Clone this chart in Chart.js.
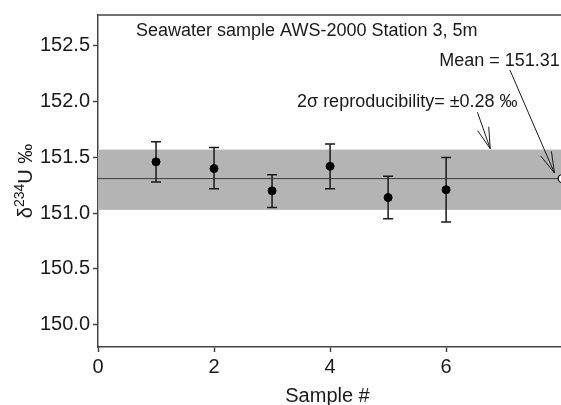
<!DOCTYPE html>
<html>
<head>
<meta charset="utf-8">
<script src="https://cdn.jsdelivr.net/npm/chart.js@4"></script>
<style>
  html, body { margin: 0; padding: 0; background: #fff; overflow: hidden; }
  canvas { display: block; }
</style>
</head>
<body>
<canvas id="chart" width="561" height="405"></canvas>
<script>
const sampleNo = [1, 2, 3, 4, 5, 6];
const delta234U = [151.46, 151.40, 151.20, 151.42, 151.14, 151.21];
const errLow = [151.28, 151.22, 151.05, 151.22, 150.95, 150.92];
const errHigh = [151.64, 151.59, 151.345, 151.62, 151.33, 151.50];
const meanX = [8];
const meanValue = [151.31];
const bandLow = 151.03;
const bandHigh = 151.57;
const xTicks = [0, 2, 4, 6];
const yTicks = [150.0, 150.5, 151.0, 151.5, 152.0, 152.5];

const FONT = 'Liberation Sans, Arial, sans-serif';
const INK = '#1a1a1a';
const AXIS = '#444';

// text + arrows, positioned in data units
const notes = [
  { text: 'Seawater sample AWS-2000 Station 3, 5m', x: 0.655, y: 152.587 },
  { text: 'Mean = 151.31', x: 5.88, y: 152.32 },
  { text: '2\u03c3 reproducibility= \u00b10.28 \u2030', x: 3.43, y: 151.955 }
];
const arrows = [
  { from: [6.54, 151.905], to: [6.76, 151.578] },
  { from: [7.10, 152.283], to: [7.867, 151.36] }
];

const bandPlugin = {
  id: 'band',
  beforeDatasetsDraw(chart) {
    const { ctx, chartArea: a, scales: { x, y } } = chart;
    ctx.save();
    ctx.fillStyle = '#b4b4b4';
    const top = y.getPixelForValue(bandHigh);
    const bot = y.getPixelForValue(bandLow);
    ctx.fillRect(a.left, top, a.right - a.left, bot - top);
    ctx.strokeStyle = '#3c3c3c';
    ctx.lineWidth = 1;
    const my = y.getPixelForValue(meanValue[0]);
    ctx.beginPath();
    ctx.moveTo(a.left, my);
    ctx.lineTo(a.right, my);
    ctx.stroke();

    // error bars
    ctx.strokeStyle = INK;
    ctx.lineWidth = 1.5;
    sampleNo.forEach((s, i) => {
      const px = x.getPixelForValue(s);
      const hi = y.getPixelForValue(errHigh[i]);
      const lo = y.getPixelForValue(errLow[i]);
      ctx.beginPath();
      ctx.moveTo(px, hi); ctx.lineTo(px, lo);
      ctx.moveTo(px - 5, hi); ctx.lineTo(px + 5, hi);
      ctx.moveTo(px - 5, lo); ctx.lineTo(px + 5, lo);
      ctx.stroke();
    });
    ctx.restore();
  }
};

const notesPlugin = {
  id: 'notes',
  afterDraw(chart) {
    const { ctx, chartArea: a, scales: { x, y } } = chart;
    ctx.save();
    // top frame line
    ctx.strokeStyle = AXIS;
    ctx.lineWidth = 1.5;
    ctx.beginPath();
    ctx.moveTo(a.left, a.top);
    ctx.lineTo(a.right, a.top);
    ctx.stroke();

    ctx.fillStyle = INK;
    ctx.font = '18px ' + FONT;
    ctx.textAlign = 'left';
    ctx.textBaseline = 'alphabetic';
    notes.forEach(n => {
      ctx.fillText(n.text, x.getPixelForValue(n.x), y.getPixelForValue(n.y));
    });

    ctx.strokeStyle = INK;
    ctx.lineWidth = 1;
    arrows.forEach(ar => {
      const x0 = x.getPixelForValue(ar.from[0]), y0 = y.getPixelForValue(ar.from[1]);
      const x1 = x.getPixelForValue(ar.to[0]), y1 = y.getPixelForValue(ar.to[1]);
      const ang = Math.atan2(y1 - y0, x1 - x0);
      const len = 22, spread = 0.27;
      ctx.beginPath();
      ctx.moveTo(x0, y0); ctx.lineTo(x1, y1);
      ctx.moveTo(x1 - len * Math.cos(ang - spread), y1 - len * Math.sin(ang - spread));
      ctx.lineTo(x1, y1);
      ctx.lineTo(x1 - len * Math.cos(ang + spread), y1 - len * Math.sin(ang + spread));
      ctx.stroke();
    });

    // y axis title: delta 234 U permil
    ctx.translate(25, (a.top + a.bottom) / 2);
    ctx.rotate(-Math.PI / 2);
    const parts = [
      { t: '\u03b4', f: '20px ' + FONT, dy: 0 },
      { t: '234', f: '14px ' + FONT, dy: -8 },
      { t: 'U \u2030', f: '20px ' + FONT, dy: 0 }
    ];
    let total = 0;
    parts.forEach(p => { ctx.font = p.f; p.w = ctx.measureText(p.t).width; total += p.w; });
    let cx = -total / 2;
    parts.forEach(p => {
      ctx.font = p.f;
      ctx.fillText(p.t, cx, 7 + p.dy);
      cx += p.w;
    });
    ctx.restore();

    // x axis title
    ctx.save();
    ctx.fillStyle = INK;
    ctx.font = '20px ' + FONT;
    ctx.textAlign = 'center';
    ctx.fillText('Sample #', (a.left + a.right) / 2 - 2, 402);
    ctx.restore();
  }
};

new Chart(document.getElementById('chart'), {
  type: 'scatter',
  data: {
    datasets: [
      {
        data: sampleNo.map((s, i) => ({ x: s, y: delta234U[i] })),
        pointRadius: 4,
        pointBackgroundColor: '#000',
        pointBorderColor: '#000',
        pointBorderWidth: 1
      },
      {
        data: meanX.map((m, i) => ({ x: m, y: meanValue[i] })),
        pointRadius: 4,
        pointBackgroundColor: '#fff',
        pointBorderColor: '#000',
        pointBorderWidth: 1.2,
        clip: false
      }
    ]
  },
  options: {
    responsive: false,
    animation: false,
    events: [],
    layout: { autoPadding: false, padding: { left: 0, top: 14, right: 0, bottom: 0 } },
    plugins: { legend: { display: false }, tooltip: { enabled: false } },
    scales: {
      x: {
        type: 'linear',
        min: 0,
        max: 7.98,
        afterBuildTicks: s => { s.ticks = xTicks.map(v => ({ value: v })); },
        afterFit: s => { s.height = 58; },
        grid: { drawOnChartArea: false, tickLength: 5, tickColor: AXIS, tickWidth: 1.5 },
        border: { color: AXIS, width: 1.5 },
        ticks: { color: INK, font: { family: FONT, size: 20 }, padding: 3 }
      },
      y: {
        min: 149.8,
        max: 152.777,
        afterBuildTicks: s => { s.ticks = yTicks.map(v => ({ value: v })); },
        afterFit: s => { s.width = 98; },
        grid: { drawOnChartArea: false, tickLength: 5, tickColor: AXIS, tickWidth: 1.5 },
        border: { color: AXIS, width: 1.5 },
        ticks: {
          color: INK,
          font: { family: FONT, size: 20 },
          padding: 3,
          callback: v => v.toFixed(1)
        }
      }
    }
  },
  plugins: [bandPlugin, notesPlugin]
});
</script>
</body>
</html>
